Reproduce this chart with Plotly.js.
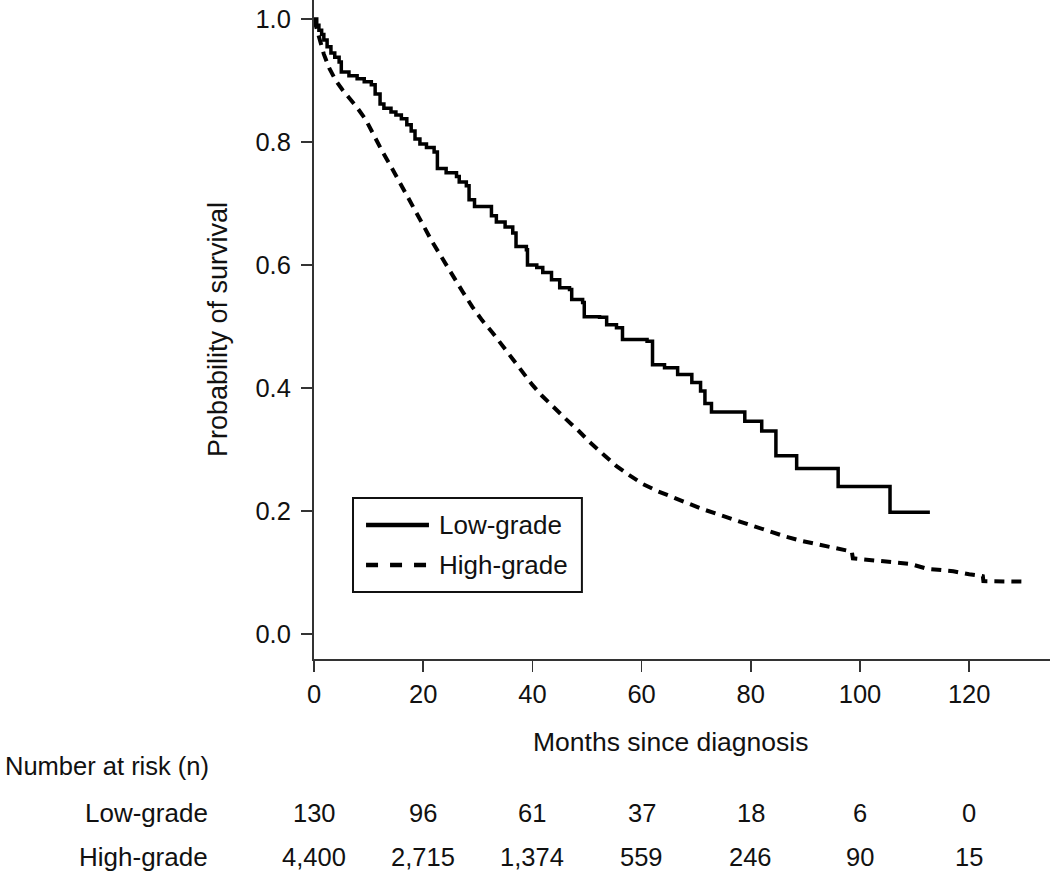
<!DOCTYPE html>
<html>
<head>
<meta charset="utf-8">
<script src="https://cdn.plot.ly/plotly-3.0.1.min.js"></script>
<style>
  html, body { margin: 0; padding: 0; background: #fff; }
  #km { width: 1050px; height: 880px; }
</style>
</head>
<body>
<div id="km"></div>
<script>
// Kaplan-Meier estimates (months, survival probability)
var lowMonths = [0, 0.5, 0.9, 1.4, 1.8, 2.4, 3.1, 3.8, 4.6, 5.0, 6.4, 7.9, 9.2, 10.5, 11.2, 12.1, 12.8, 14.1, 15.0, 16.0, 17.0, 17.8, 18.5, 19.4, 20.6, 22.0, 22.6, 24.2, 26.1, 26.6, 27.9, 28.4, 29.4, 32.5, 33.4, 35.0, 36.4, 37.0, 38.9, 39.1, 40.8, 41.9, 43.5, 45.0, 46.8, 47.2, 49.2, 49.5, 52.3, 53.6, 55.4, 56.5, 61.0, 62.0, 64.2, 66.6, 69.2, 70.8, 71.6, 72.8, 78.9, 82.0, 84.6, 88.4, 96.0, 105.5, 112.8];
var lowSurv = [1.0, 0.99, 0.982, 0.975, 0.966, 0.955, 0.945, 0.938, 0.93, 0.914, 0.908, 0.903, 0.898, 0.893, 0.878, 0.862, 0.855, 0.849, 0.844, 0.838, 0.828, 0.818, 0.805, 0.797, 0.791, 0.784, 0.757, 0.75, 0.744, 0.735, 0.729, 0.706, 0.695, 0.68, 0.67, 0.662, 0.652, 0.63, 0.625, 0.6, 0.596, 0.588, 0.576, 0.563, 0.56, 0.544, 0.539, 0.516, 0.515, 0.503, 0.498, 0.479, 0.476, 0.438, 0.433, 0.422, 0.409, 0.395, 0.375, 0.361, 0.346, 0.33, 0.29, 0.269, 0.24, 0.198, 0.198];

// high-grade has many small steps, drawn as a smooth line except the late drops
var highMonths = [0, 0.9, 1.8, 2.8, 4.0, 5.2, 6.4, 7.9, 9.5, 11.0, 12.5, 14.3, 16.1, 18.0, 19.8, 21.7, 23.5, 25.3, 27.2, 29.0, 30.8, 32.7, 34.5, 36.3, 38.0, 40.0, 41.8, 43.7, 46.2, 48.5, 50.5, 53.0, 55.4, 57.8, 60.2, 63.0, 65.7, 68.5, 71.2, 74.5, 78.0, 80.8, 83.5, 86.5, 89.5, 92.5, 95.8, 98.5, 98.7, 102.0, 105.0, 109.2, 112.3, 117.1, 120.0, 122.5, 122.6, 130.8];
var highSurv = [1.0, 0.972, 0.943, 0.92, 0.9, 0.885, 0.872, 0.856, 0.836, 0.81, 0.785, 0.757, 0.728, 0.7, 0.668, 0.637, 0.61, 0.583, 0.557, 0.532, 0.51, 0.49, 0.469, 0.447, 0.427, 0.405, 0.387, 0.37, 0.349, 0.33, 0.312, 0.292, 0.273, 0.258, 0.244, 0.232, 0.222, 0.212, 0.203, 0.193, 0.183, 0.174, 0.166, 0.158, 0.151, 0.145, 0.138, 0.134, 0.123, 0.12, 0.117, 0.114, 0.106, 0.102, 0.097, 0.094, 0.086, 0.085];

// number at risk table
var riskMonths = [0, 20, 40, 60, 80, 100, 120];
var riskLow = ["130", "96", "61", "37", "18", "6", "0"];
var riskHigh = ["4,400", "2,715", "1,374", "559", "246", "90", "15"];
var groupNames = ["Low-grade", "High-grade"];

var fontFam = "Liberation Sans, Arial, sans-serif";
var ink = "#111";
var axisCol = "#333";
var txtSize = 26;

var traces = [
  {
    x: lowMonths, y: lowSurv, type: "scatter", mode: "lines",
    line: { shape: "hv", color: "#000", width: 3.5 },
    name: groupNames[0], showlegend: false, hoverinfo: "skip"
  },
  {
    x: highMonths, y: highSurv, type: "scatter", mode: "lines",
    line: { shape: "linear", color: "#000", width: 4, dash: "10px,7px" },
    name: groupNames[1], showlegend: false, hoverinfo: "skip"
  }
];

var annotations = [];
// x axis title
annotations.push({
  text: "Months since diagnosis", xref: "paper", yref: "paper",
  x: 0.484, y: -0.126, xanchor: "center", yanchor: "middle",
  showarrow: false, font: { family: fontFam, size: 26.5, color: ink }
});
// risk table header + row labels
annotations.push({
  text: "Number at risk (n)", xref: "paper", yref: "paper",
  x: -0.4225, y: -0.1624, xanchor: "left", yanchor: "middle",
  showarrow: false, font: { family: fontFam, size: 25.5, color: ink }
});
var rowY = [-0.2337, -0.3005];
var rows = [riskLow, riskHigh];
for (var r = 0; r < 2; r++) {
  annotations.push({
    text: groupNames[r], xref: "paper", yref: "paper",
    x: -0.1413, y: rowY[r], xanchor: "right", yanchor: "middle",
    showarrow: false, font: { family: fontFam, size: txtSize, color: ink }
  });
  for (var i = 0; i < riskMonths.length; i++) {
    annotations.push({
      text: rows[r][i], xref: "x", yref: "paper",
      x: riskMonths[i], y: rowY[r], xanchor: "center", yanchor: "middle",
      showarrow: false, font: { family: fontFam, size: 25.5, color: ink }
    });
  }
}
// legend text
var legY = [0.2033, 0.1426];
for (var k = 0; k < 2; k++) {
  annotations.push({
    text: groupNames[k], xref: "paper", yref: "paper",
    x: 0.1665, y: legY[k], xanchor: "left", yanchor: "middle",
    showarrow: false, font: { family: fontFam, size: txtSize, color: ink }
  });
}

var shapes = [
  // legend box
  { type: "rect", xref: "paper", yref: "paper", x0: 0.053, x1: 0.364, y0: 0.1017, y1: 0.2443,
    line: { color: "#111", width: 2 }, fillcolor: "rgba(0,0,0,0)" },
  { type: "line", xref: "paper", yref: "paper", x0: 0.0707, x1: 0.1562, y0: legY[0], y1: legY[0],
    line: { color: "#000", width: 4.5 } },
  { type: "line", xref: "paper", yref: "paper", x0: 0.0707, x1: 0.1562, y0: legY[1], y1: legY[1],
    line: { color: "#000", width: 4.5, dash: "12px,12px" } }
];

var layout = {
  width: 1050, height: 880,
  margin: { l: 314, r: 0, t: 0, b: 221 },
  paper_bgcolor: "#fff", plot_bgcolor: "#fff",
  showlegend: false,
  font: { family: fontFam, size: 25.5, color: ink },
  xaxis: {
    range: [0, 134.8], tickvals: riskMonths, ticks: "outside", ticklen: 11,
    tickwidth: 1.5, tickcolor: axisCol, showline: true, linecolor: axisCol, linewidth: 2,
    showgrid: false, zeroline: false, tickfont: { size: 25.5, color: ink }
  },
  yaxis: {
    range: [-0.0407, 1.031], tickvals: [0, 0.2, 0.4, 0.6, 0.8, 1.0], tickformat: ".1f",
    ticks: "outside", ticklen: 11, tickwidth: 1.5, tickcolor: axisCol,
    showline: true, linecolor: axisCol, linewidth: 2, showgrid: false, zeroline: false,
    tickfont: { size: 25.5, color: ink }, ticklabelstandoff: 5,
    title: { text: "Probability of survival", font: { size: 27, color: ink }, standoff: 20 }
  },
  annotations: annotations,
  shapes: shapes
};

Plotly.newPlot("km", traces, layout, { displayModeBar: false, staticPlot: true });
</script>
</body>
</html>
